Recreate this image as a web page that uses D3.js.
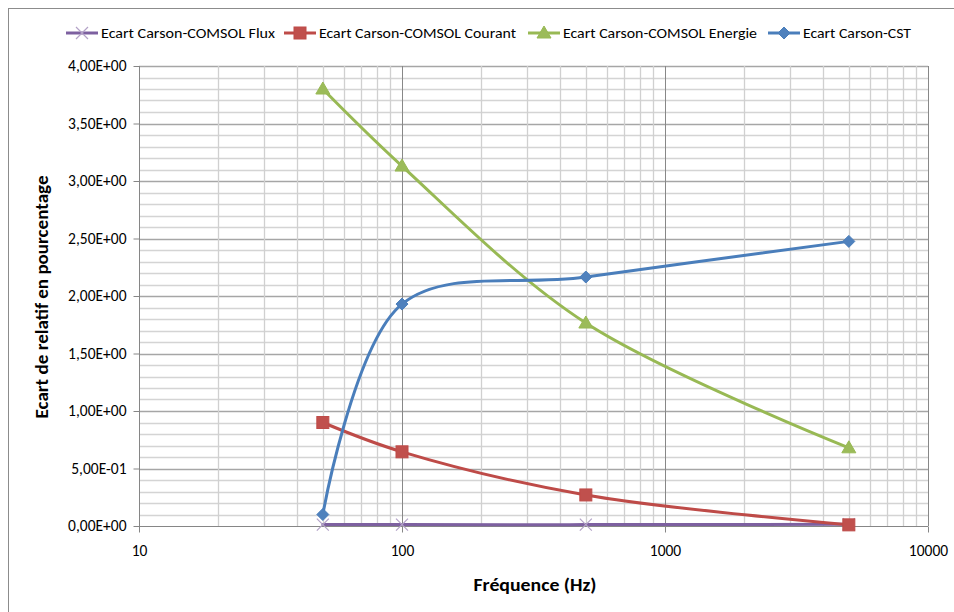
<!DOCTYPE html>
<html><head><meta charset="utf-8">
<script src="https://cdn.jsdelivr.net/npm/d3@7"></script>
<style>
body{margin:0;background:#fff;}
text{font-family:Carlito,"Liberation Sans Narrow","Liberation Sans",Arial,sans-serif;fill:#000;}
</style></head><body>
<svg id="c" width="954" height="612"></svg>
<script>
const freqs = [50, 100, 500, 5000];
const flux = [0.012, 0.012, 0.012, 0.015];
const courant = [0.90, 0.645, 0.27, 0.01];
const energie = [3.80, 3.13, 1.765, 0.68];
const cst = [0.10, 1.93, 2.165, 2.475];
const seriesNames = ["Ecart Carson-COMSOL Flux","Ecart Carson-COMSOL Courant","Ecart Carson-COMSOL Energie","Ecart Carson-CST"];
const yTicks = [0,0.5,1,1.5,2,2.5,3,3.5,4];
const xTicks = [10,100,1000,10000];

const svg = d3.select("#c");
svg.append("rect").attr("x",8.5).attr("y",8.5).attr("width",960).attr("height",620)
  .attr("fill","#fff").attr("stroke","#8c8c8c").attr("stroke-width",1);

const L=139, R=928, T=66, B=526;
const x = d3.scaleLog().domain([10,10000]).range([L,R]);
const y = d3.scaleLinear().domain([0,4]).range([B,T]);

const g = svg.append("g");
for(let i=1;i<=40;i++){
  const v=i/10; const major = i%5===0;
  g.append("line").attr("x1",L).attr("x2",R).attr("y1",Math.round(y(v))+0.5).attr("y2",Math.round(y(v))+0.5)
   .attr("stroke",major?"#a6a6a6":"#d4d4d4").attr("stroke-width",1.3);
}
for(let d=10; d<10000; d*=10){
  for(let k=2;k<=9;k++){
    const v=d*k;
    g.append("line").attr("x1",Math.round(x(v))+0.5).attr("x2",Math.round(x(v))+0.5).attr("y1",T).attr("y2",B)
     .attr("stroke","#d0d0d0").attr("stroke-width",1.3);
  }
}
[100,1000,10000].forEach(v=>{
  g.append("line").attr("x1",Math.round(x(v))+0.5).attr("x2",Math.round(x(v))+0.5).attr("y1",T).attr("y2",B)
   .attr("stroke","#888").attr("stroke-width",1);
});

const yAxis = d3.axisLeft(y).tickValues(yTicks).tickSize(6).tickSizeOuter(0)
  .tickFormat(v=>{ if(v===0) return "0,00E+00"; const e=Math.floor(Math.log10(Math.abs(v)));
    const m=v/Math.pow(10,e); return m.toFixed(2).replace(".",",")+"E"+(e<0?"-":"+")+String(Math.abs(e)).padStart(2,"0");});
const ya = svg.append("g").attr("transform",`translate(${L+0.5},0)`).call(yAxis);
ya.selectAll("path,line").attr("stroke","#868686");
ya.selectAll("text").attr("font-size",15.5).attr("x",-13).attr("fill","#000");

const xAxis = d3.axisBottom(x).tickValues(xTicks).tickFormat(d3.format("d")).tickSize(6).tickSizeOuter(0);
const xa = svg.append("g").attr("transform",`translate(0,${B+0.5})`).call(xAxis);
xa.selectAll("path,line").attr("stroke","#868686");
xa.selectAll("text").attr("font-size",15.5).attr("dy","1.3em").attr("fill","#000");
ya.select(".domain").remove(); xa.select(".domain").remove();
svg.append("line").attr("x1",L+0.5).attr("x2",L+0.5).attr("y1",T).attr("y2",B).attr("stroke","#868686");
svg.append("line").attr("x1",L).attr("x2",R).attr("y1",B+0.5).attr("y2",B+0.5).attr("stroke","#868686");

svg.append("text").attr("x",535).attr("y",591).attr("text-anchor","middle").attr("font-size",17).attr("font-weight","bold")
  .attr("textLength",123).attr("lengthAdjust","spacingAndGlyphs").text("Fréquence (Hz)");
svg.append("text").attr("transform","translate(48,297) rotate(-90)").attr("text-anchor","middle").attr("font-size",17).attr("font-weight","bold")
  .attr("textLength",243).attr("lengthAdjust","spacingAndGlyphs").text("Ecart de relatif en pourcentage");

const line = d3.line().x((d,i)=>x(freqs[i])).y(d=>y(d)).curve(d3.curveCatmullRom.alpha(0.5));
const colors = ["#7D60A0","#BE4B48","#98B954","#4A7EBB"];
const data = [flux,courant,energie,cst];
data.forEach((s,si)=>{
  svg.append("path").datum(s).attr("d",line).attr("fill","none").attr("stroke",colors[si]).attr("stroke-width",3).attr("stroke-linecap","round");
});

function marker(gp, type, cx, cy){
  if(type===0){
    gp.append("path").attr("d",`M${cx-6},${cy-6}L${cx+6},${cy+6}M${cx-6},${cy+6}L${cx+6},${cy-6}`).attr("stroke","#B3A2C7").attr("stroke-width",1.2).attr("fill","none");
  } else if(type===1){
    gp.append("rect").attr("x",cx-6).attr("y",cy-6).attr("width",12).attr("height",12).attr("fill","#C0504D").attr("stroke","#BE4B48");
  } else if(type===2){
    gp.append("path").attr("d",`M${cx},${cy-7}L${cx+7},${cy+5}L${cx-7},${cy+5}Z`).attr("fill","#9BBB59").attr("stroke","#98B954");
  } else {
    gp.append("path").attr("d",`M${cx},${cy-6}L${cx+6},${cy}L${cx},${cy+6}L${cx-6},${cy}Z`).attr("fill","#4F81BD").attr("stroke","#4A7EBB");
  }
}
data.forEach((s,si)=>{
  const gp=svg.append("g");
  s.forEach((v,i)=>marker(gp,si,x(freqs[i]),y(v)));
});

const legX=[66,284,528,768], legTextW=[174,197,194,108];
const lg = svg.append("g");
seriesNames.forEach((n,i)=>{
  const lx=legX[i], ly=33;
  lg.append("line").attr("x1",lx).attr("x2",lx+32).attr("y1",ly).attr("y2",ly).attr("stroke",colors[i]).attr("stroke-width",3);
  marker(lg,i,lx+16,ly);
  lg.append("text").attr("x",lx+35).attr("y",ly+5).attr("font-size",15).attr("textLength",legTextW[i]).attr("lengthAdjust","spacingAndGlyphs").text(n);
});
</script></body></html>
